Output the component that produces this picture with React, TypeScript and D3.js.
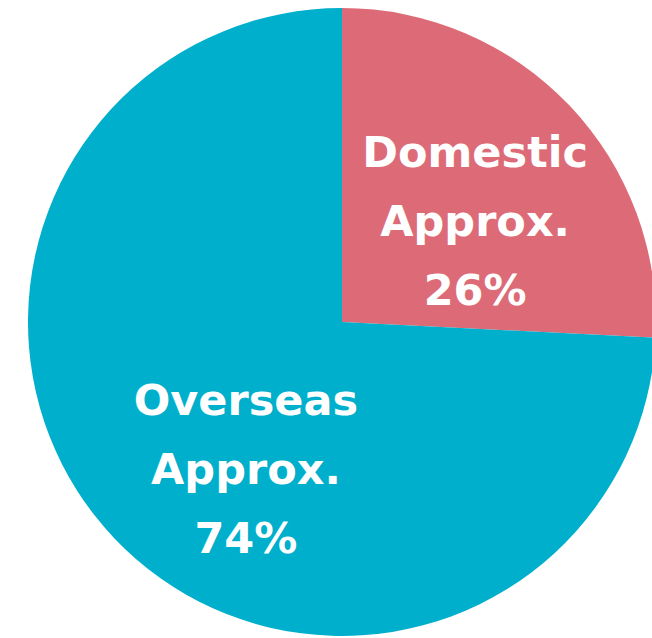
import React from "react";
import * as d3 from "d3";

const categories = ["Domestic", "Overseas"];
const shares = [25.8, 74.2];
const labelLines = [
  ["Domestic", "Approx.", "26%"],
  ["Overseas", "Approx.", "74%"],
];
const colors = ["#DC6B77", "#00AFCB"];

const W = 652;
const H = 638;
const CX = 342;
const CY = 322;
const R = 314;
// label anchor (first-line baseline) as offset from the centre, in units of R
const labelOffset = [
  { dx: 0.424, dy: -0.494 },
  { dx: -0.306, dy: 0.296 },
];
const LINE_GAP = 69;

export default function App() {
  const pie = d3.pie<number>().sort(null).value((d) => d)(shares);
  const arc = d3.arc<d3.PieArcDatum<number>>().innerRadius(0).outerRadius(R);
  return (
    <svg
      width={W}
      height={H}
      style={{ position: "absolute", left: 0, top: 0, display: "block" }}
    >
      <rect width={W} height={H} fill="#ffffff" />
      <g transform={`translate(${CX},${CY})`}>
        {pie.map((p, i) => (
          <path key={categories[i]} d={arc(p) || ""} fill={colors[i]} />
        ))}
        {pie.map((p, i) => {
          const lo = labelOffset[i];
          const x = lo.dx * R;
          const y = lo.dy * R;
          return (
            <text
              key={"t" + i}
              x={x}
              y={y}
              textAnchor="middle"
              fill="#ffffff"
              fontFamily="'DejaVu Sans', Verdana, sans-serif"
              fontWeight="bold"
              fontSize={43}
            >
              {labelLines[i].map((l, j) => (
                <tspan key={j} x={x} y={y + j * LINE_GAP}>
                  {l}
                </tspan>
              ))}
            </text>
          );
        })}
      </g>
    </svg>
  );
}
